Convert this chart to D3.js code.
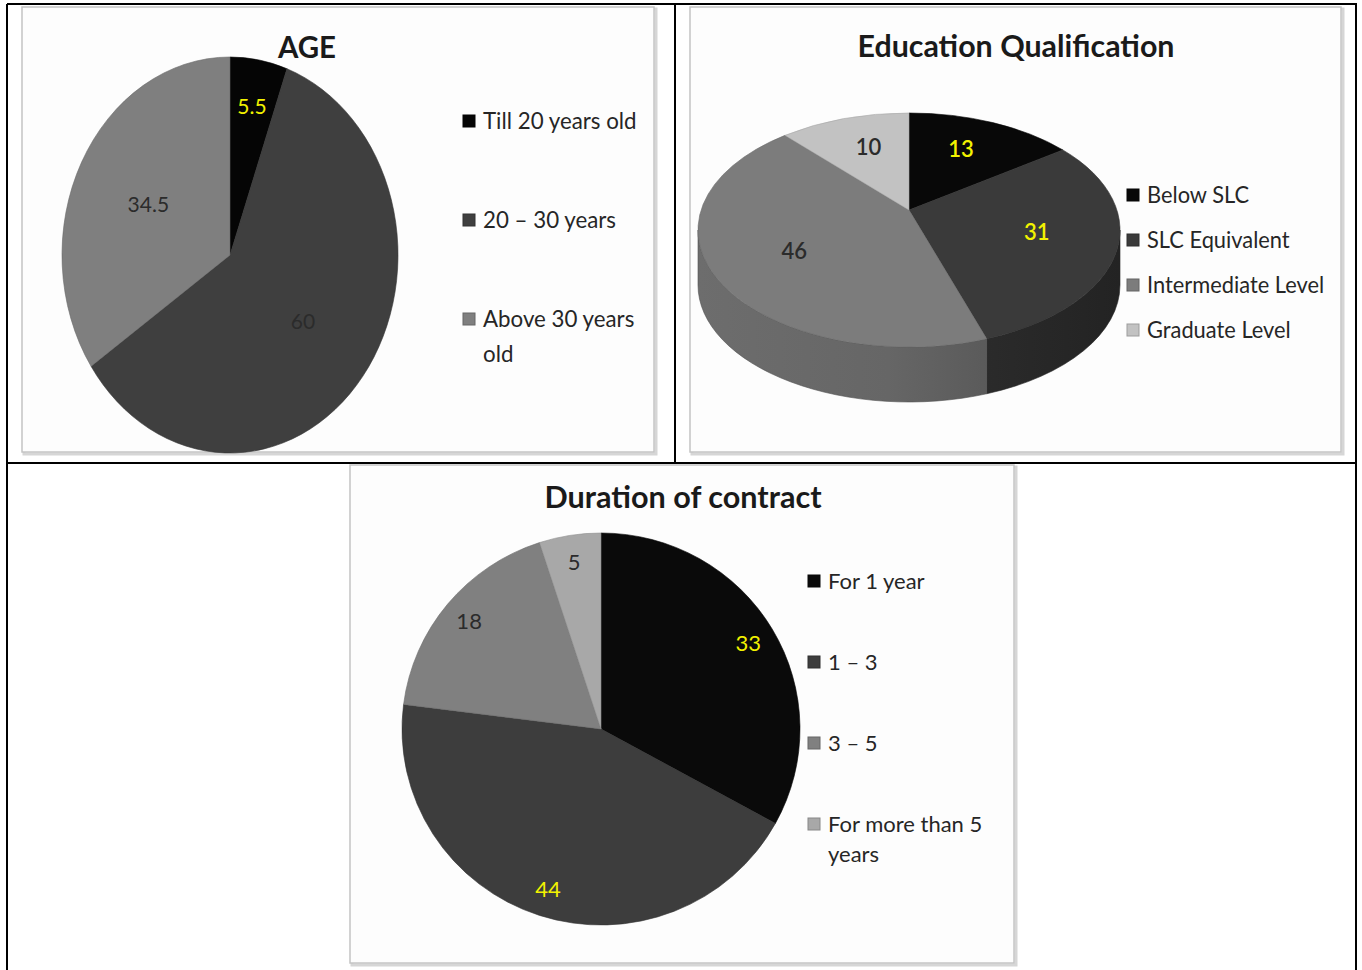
<!DOCTYPE html>
<html>
<head>
<meta charset="utf-8">
<script src="https://cdn.jsdelivr.net/npm/d3@7"></script>
<style>
  body { margin: 0; background: #fff; }
  svg { display: block; }
</style>
</head>
<body>
<svg id="chart" width="1362" height="970"></svg>
<script>
/* ===== Data ===== */
const ageTitle = "AGE";
const ageCategories = ["Till 20 years old", "20 – 30 years", "Above 30 years old"];
const ageValues = [5.5, 60, 34.5];

const eduTitle = "Education Qualification";
const eduCategories = ["Below SLC", "SLC Equivalent", "Intermediate Level", "Graduate Level"];
const eduValues = [13, 31, 46, 10];

const durTitle = "Duration of contract";
const durCategories = ["For 1 year", "1 – 3", "3 – 5", "For more than 5 years"];
const durValues = [33, 44, 18, 5];

/* ===== Styles ===== */
const FONT = "Lato, 'Open Sans', sans-serif";
const SX = 0.93; // slight horizontal squeeze (source looks like stretched Calibri)
const yellow = "#f2f200";
const darkLbl = "#2b2b2b";

const ageColors = ["#050505", "#3f3f3f", "#7f7f7f"];
const ageLabelColors = [yellow, darkLbl, darkLbl];
const eduColors = ["#080808", "#3a3a3a", "#7c7c7c", "#c2c2c2"];
const eduLabelColors = [yellow, yellow, darkLbl, darkLbl];
const durColors = ["#0a0a0a", "#3d3d3d", "#808080", "#a8a8a8"];
const durLabelColors = [yellow, yellow, darkLbl, darkLbl];

const svg = d3.select("#chart");
const defs = svg.append("defs");

/* text helper: horizontally squeezed text */
function txt(g, x, y, s, o = {}) {
  return g.append("text")
    .attr("transform", `translate(${x},${y}) scale(${o.sx || SX},1)`)
    .attr("text-anchor", o.anchor || "start")
    .attr("font-family", FONT)
    .attr("font-size", o.size || 22)
    .attr("font-weight", o.weight || 400)
    .attr("fill", o.fill || "#1a1a1a")
    .text(s);
}

/* chart frame (light grey border with soft shadow) */
function frame(x0, y0, x1, y1) {
  const g = svg.append("g");
  g.append("rect").attr("x", x0 + 2).attr("y", y0 + 2).attr("width", x1 - x0).attr("height", y1 - y0)
    .attr("fill", "none").attr("stroke", "#d6d6d6").attr("stroke-width", 3);
  g.append("rect").attr("x", x0).attr("y", y0).attr("width", x1 - x0).attr("height", y1 - y0)
    .attr("fill", "#fdfdfd").attr("stroke", "#c4c4c4").attr("stroke-width", 1.5);
}

/* legend, some labels broken on two lines */
function legend(x, y0, step, cats, colors, o) {
  const g = svg.append("g");
  cats.forEach((c, i) => {
    const y = y0 + i * step;
    g.append("rect").attr("x", x).attr("y", y - 6).attr("width", 12).attr("height", 12)
      .attr("fill", colors[i]).attr("stroke", d3.color(colors[i]).darker(0.6)).attr("stroke-width", 1);
    const lines = o.lines && o.lines[i] ? o.lines[i] : [c];
    lines.forEach((ln, j) => {
      txt(g, x + 20, y + 8 + j * o.lineH, ln, { size: o.size, fill: "#262626", sx: o.sx });
    });
  });
}

function splitAt(s, n) {
  const w = s.split(" ");
  return [w.slice(0, n).join(" "), w.slice(n).join(" ")];
}

/* flat elliptic pie */
function flatPie(cx, cy, rx, ry, values, colors, labelColors, lblFrac, lblSize, lblWeight) {
  const arcs = d3.pie().sort(null).value(d => d)(values);
  const arc = d3.arc().innerRadius(0).outerRadius(100);
  const g = svg.append("g").attr("transform", `translate(${cx},${cy}) scale(${rx / 100},${ry / 100})`);
  g.selectAll("path").data(arcs).join("path")
    .attr("d", arc)
    .attr("fill", (d, i) => colors[i])
    .attr("stroke", (d, i) => d3.color(colors[i]).darker(0.5))
    .attr("stroke-width", 0.6)
    .attr("vector-effect", "non-scaling-stroke");
  const gl = svg.append("g");
  arcs.forEach((d, i) => {
    const f = typeof lblFrac === "function" ? lblFrac(d) : lblFrac;
    const a = (d.startAngle + d.endAngle) / 2;
    const x = cx + rx * f * Math.sin(a);
    const y = cy - ry * f * Math.cos(a);
    txt(gl, x, y + lblSize * 0.36, d.value, { anchor: "middle", size: lblSize, fill: labelColors[i], weight: lblWeight, sx: 1 });
  });
}

/* 3-D pie (top face + front wall) */
function pie3d(cx, cy, rx, ry, depth, apexDy, values, colors, labelColors, lblFrac, lblSize) {
  const arcs = d3.pie().sort(null).value(d => d)(values);
  const pt = (a, dy = 0) => [cx + rx * Math.sin(a), cy - ry * Math.cos(a) + dy];
  const apex = [cx, cy + apexDy];
  const g = svg.append("g");

  // front walls: only the part between 90° and 270°
  const lo = Math.PI / 2, hi = 3 * Math.PI / 2;
  arcs.forEach((d, i) => {
    const s = Math.max(d.startAngle, lo), e = Math.min(d.endAngle, hi);
    if (e <= s) return;
    const gid = "side" + i;
    const base = d3.color(colors[i]);
    const grad = defs.append("linearGradient").attr("id", gid)
      .attr("gradientUnits", "userSpaceOnUse")
      .attr("x1", cx - rx).attr("x2", cx + rx).attr("y1", 0).attr("y2", 0);
    grad.append("stop").attr("offset", 0).attr("stop-color", base.darker(0.35));
    grad.append("stop").attr("offset", 0.45).attr("stop-color", base.darker(0.55));
    grad.append("stop").attr("offset", 1).attr("stop-color", base.darker(1.4));
    const p0 = pt(s), p1 = pt(e), q1 = pt(e, depth), q0 = pt(s, depth);
    const large = e - s > Math.PI ? 1 : 0;
    const path = `M${p0}A${rx},${ry} 0 ${large} 1 ${p1}L${q1}A${rx},${ry} 0 ${large} 0 ${q0}Z`;
    g.append("path").attr("d", path).attr("fill", `url(#${gid})`)
      .attr("stroke", base.darker(1.2)).attr("stroke-width", 0.6);
  });

  // top faces
  arcs.forEach((d, i) => {
    const p0 = pt(d.startAngle), p1 = pt(d.endAngle);
    const large = d.endAngle - d.startAngle > Math.PI ? 1 : 0;
    g.append("path")
      .attr("d", `M${apex}L${p0}A${rx},${ry} 0 ${large} 1 ${p1}Z`)
      .attr("fill", colors[i])
      .attr("stroke", d3.color(colors[i]).darker(0.4)).attr("stroke-width", 0.6);
  });

  arcs.forEach((d, i) => {
    const a = (d.startAngle + d.endAngle) / 2;
    const x = apex[0] + rx * lblFrac * Math.sin(a);
    const y = apex[1] - ry * lblFrac * Math.cos(a) + 6;
    txt(g, x, y + lblSize * 0.36, d.value, { anchor: "middle", size: lblSize, fill: labelColors[i], weight: 600, sx: 1 });
  });
}

/* ===== Table grid ===== */
frame(22, 7, 654, 452);
frame(690, 7, 1341, 452);
frame(350, 465, 1014, 963);

const grid = svg.append("g").attr("stroke", "#000").attr("stroke-width", 2);
grid.append("line").attr("x1", 7).attr("x2", 1357).attr("y1", 4).attr("y2", 4);
grid.append("line").attr("x1", 7).attr("x2", 1357).attr("y1", 463).attr("y2", 463);
grid.append("line").attr("x1", 7).attr("x2", 7).attr("y1", 4).attr("y2", 970);
grid.append("line").attr("x1", 1356).attr("x2", 1356).attr("y1", 4).attr("y2", 970);
grid.append("line").attr("x1", 675).attr("x2", 675).attr("y1", 4).attr("y2", 463);

/* ===== AGE ===== */
txt(svg, 307, 58, ageTitle, { anchor: "middle", size: 31, weight: 700, sx: 0.95 });
flatPie(230, 255, 168, 198, ageValues, ageColors, ageLabelColors,
  d => (d.endAngle - d.startAngle) < 0.5 ? 0.76 : 0.55, 21, 400);
legend(463, 121, 99, ageCategories, ageColors,
  { size: 24, sx: 0.93, lineH: 35, lines: { 2: splitAt(ageCategories[2], 3) } });

/* ===== Education ===== */
txt(svg, 1016, 57, eduTitle, { anchor: "middle", size: 31, weight: 700, sx: 0.98 });
pie3d(909, 230, 211, 117, 55, -20, eduValues, eduColors, eduLabelColors, 0.62, 22);
legend(1127, 195, 45, eduCategories, eduColors, { size: 24, sx: 0.91, lineH: 30 });

/* ===== Duration ===== */
txt(svg, 683, 508, durTitle, { anchor: "middle", size: 30, weight: 700, sx: 1.02 });
flatPie(601, 729, 199, 196, durValues, durColors, durLabelColors, 0.86, 22, 400);
legend(808, 581, 81, durCategories, durColors,
  { size: 22, sx: 1.0, lineH: 30, lines: { 3: splitAt(durCategories[3], 4) } });
</script>
</body>
</html>
